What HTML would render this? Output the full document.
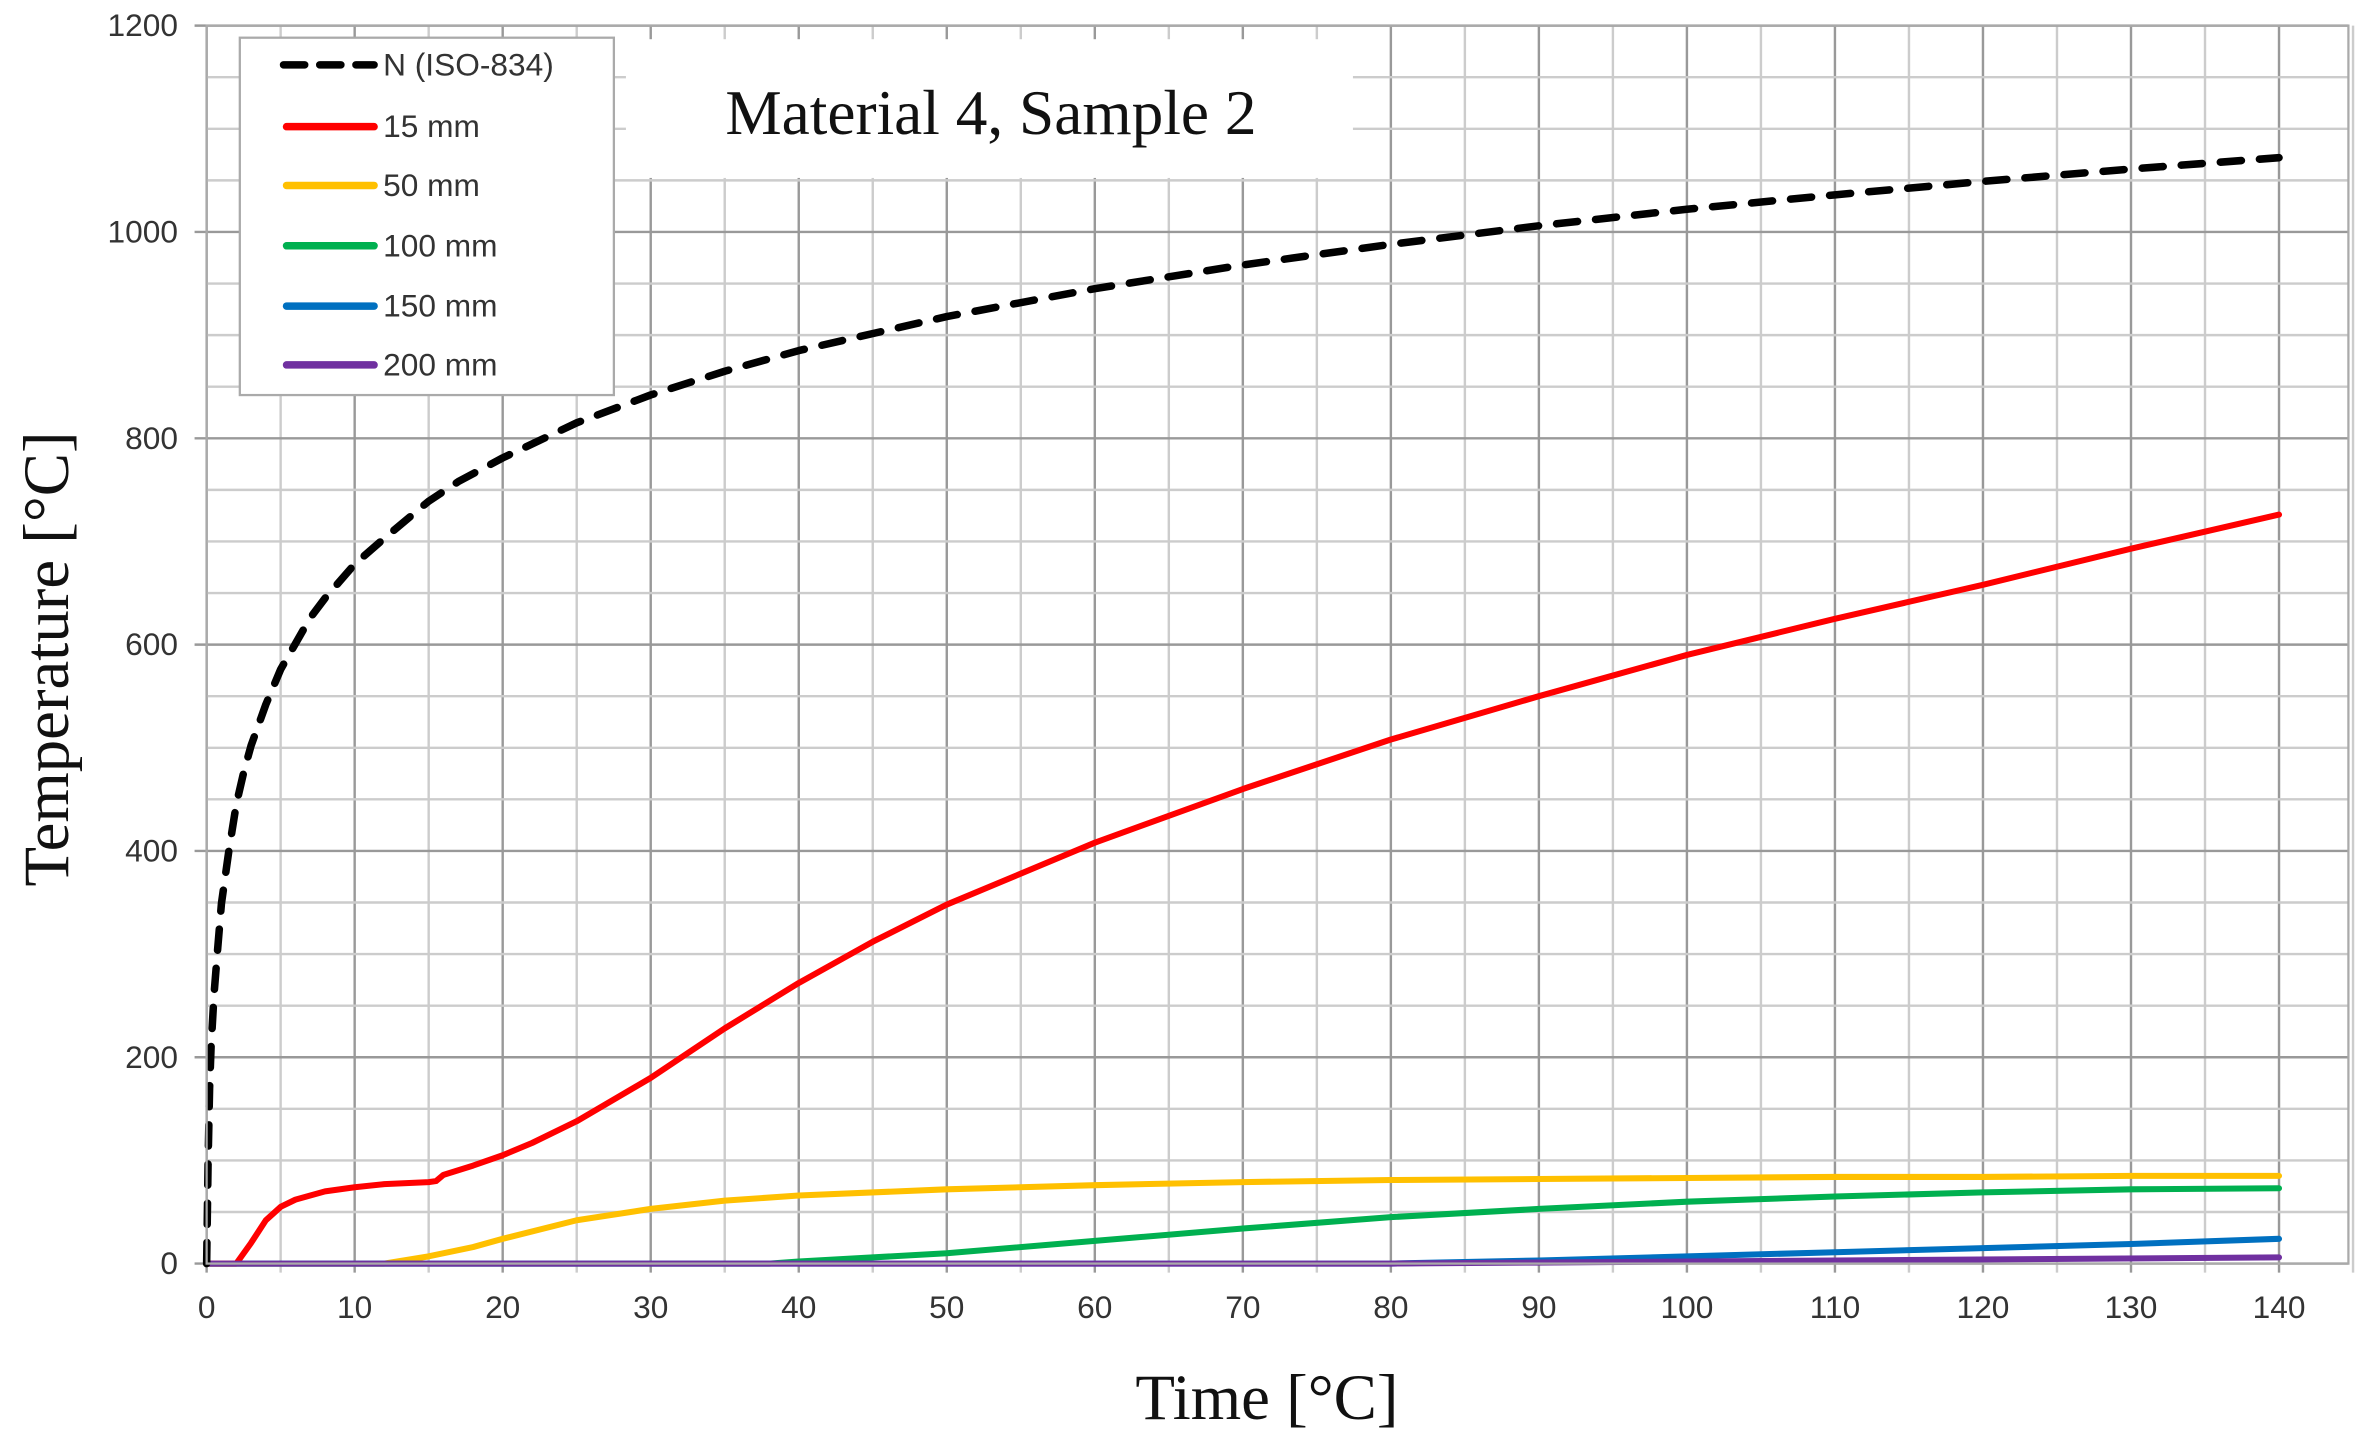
<!DOCTYPE html>
<html><head><meta charset="utf-8"><style>
html,body{margin:0;padding:0;background:#fff;}
svg{display:block;}
</style></head><body>
<svg id="chart" width="2365" height="1440" viewBox="0 0 1568 955" preserveAspectRatio="none" xmlns="http://www.w3.org/2000/svg">
<g id="grid"></g>
<g id="ticks"></g>
<g id="series"></g>
<rect x="137" y="17" width="1420" height="821" fill="none" stroke="#aaa" stroke-width="1.5"/>
<rect x="415" y="26" width="482" height="92" fill="#fff"/>
<text x="657" y="89" text-anchor="middle" font-family="Liberation Serif, serif" font-size="42" fill="#111">Material 4, Sample 2</text>
<g>
<rect x="159" y="25" width="248" height="237" fill="#fff" stroke="#aaa" stroke-width="1.5"/>
<g><line x1="188" y1="43" x2="248" y2="43" stroke="#000" stroke-width="5" stroke-dasharray="14,10" stroke-linecap="round"/><text x="254" y="50" font-family="Liberation Sans, sans-serif" font-size="21" fill="#333">N (ISO-834)</text></g>
<g><line x1="190" y1="84" x2="248" y2="84" stroke="#ff0000" stroke-width="5" stroke-linecap="round"/><text x="254" y="91" font-family="Liberation Sans, sans-serif" font-size="21" fill="#333">15 mm</text></g>
<g><line x1="190" y1="123" x2="248" y2="123" stroke="#ffc000" stroke-width="5" stroke-linecap="round"/><text x="254" y="130" font-family="Liberation Sans, sans-serif" font-size="21" fill="#333">50 mm</text></g>
<g><line x1="190" y1="163" x2="248" y2="163" stroke="#00b050" stroke-width="5" stroke-linecap="round"/><text x="254" y="170" font-family="Liberation Sans, sans-serif" font-size="21" fill="#333">100 mm</text></g>
<g><line x1="190" y1="203" x2="248" y2="203" stroke="#0070c0" stroke-width="5" stroke-linecap="round"/><text x="254" y="210" font-family="Liberation Sans, sans-serif" font-size="21" fill="#333">150 mm</text></g>
<g><line x1="190" y1="242" x2="248" y2="242" stroke="#7030a0" stroke-width="5" stroke-linecap="round"/><text x="254" y="249" font-family="Liberation Sans, sans-serif" font-size="21" fill="#333">200 mm</text></g>
</g>
<text transform="translate(45,437) rotate(-90)" text-anchor="middle" font-family="Liberation Serif, serif" font-size="43" fill="#111">Temperature [°C]</text>
<text x="840" y="941" text-anchor="middle" font-family="Liberation Serif, serif" font-size="43" fill="#111">Time [°C]</text>
</svg>
<script>
const xTicks=[0,10,20,30,40,50,60,70,80,90,100,110,120,130,140];
const yTicks=[0,200,400,600,800,1000,1200];
const isoT=[0,0.1,0.2,0.3,0.5,0.75,1,1.5,2,2.5,3,4,5,6,7,8,10,12,15,17,20,25,30,35,40,50,60,70,80,90,100,110,120,130,140];
const isoV=[0,100,170,210,261,306,349,400,445,476,502,542,576,601,626,645,678,703,739,758,781,815,842,865,885,918,945,968,988,1006,1022,1036,1049,1061,1072];
const redT=[0,2,3,4,5,6,7,8,10,12,15,15.5,16,18,20,22,25,30,35,40,45,50,60,70,80,90,100,110,120,130,140];
const redV=[0,0,20,42,55,62,66,70,74,77,79,80,86,95,105,117,138,180,228,272,312,348,408,460,508,550,590,625,658,693,726];
const yelT=[0,12,15,18,20,25,30,35,40,50,60,70,80,90,100,110,120,130,140];
const yelV=[0,0,7,16,24,42,53,61,66,72,76,79,81,82,83,84,84,85,85];
const grnT=[0,38,40,50,60,70,80,90,100,110,120,130,140];
const grnV=[0,0,2,10,22,34,45,53,60,65,69,72,73];
const bluT=[0,80,90,100,110,120,130,140];
const bluV=[0,0,3,7,11,15,19,24];
const purT=[0,80,90,110,140];
const purV=[0,0,1,3,6];
const NS='http://www.w3.org/2000/svg';
const X0=137,X1=1511,Y0=838,Y1=17;
function xs(t){return X0+(X1-X0)*t/140;}
function ys(v){return Y0-(Y0-Y1)*v/1200;}
const grid=document.getElementById('grid');
for(let t=0;t<=145;t+=5){const l=document.createElementNS(NS,'line');


l.setAttribute('x1',xs(t));l.setAttribute('x2',xs(t));l.setAttribute('y1',Y1);l.setAttribute('y2',Y0+6);
l.setAttribute('stroke',t%10===0?'#999':'#ccc');l.setAttribute('stroke-width',1.6);grid.appendChild(l);}
for(let v=0;v<=1200;v+=50){const l=document.createElementNS(NS,'line');


l.setAttribute('x1',v%200===0?X0-8:X0);l.setAttribute('x2',1557);l.setAttribute('y1',ys(v));l.setAttribute('y2',ys(v));
l.setAttribute('stroke',v%200===0?'#999':'#ccc');l.setAttribute('stroke-width',1.6);grid.appendChild(l);}
const tk=document.getElementById('ticks');
xTicks.forEach(t=>{const e=document.createElementNS(NS,'text');


e.setAttribute('x',xs(t));e.setAttribute('y',874);e.setAttribute('text-anchor','middle');
e.setAttribute('font-family','Liberation Sans, sans-serif');e.setAttribute('font-size','21');e.setAttribute('fill','#333');
e.textContent=t;tk.appendChild(e);});
yTicks.forEach(v=>{const e=document.createElementNS(NS,'text');


e.setAttribute('x',118);e.setAttribute('y',ys(v)+7);e.setAttribute('text-anchor','end');
e.setAttribute('font-family','Liberation Sans, sans-serif');e.setAttribute('font-size','21');e.setAttribute('fill','#333');
e.textContent=v;tk.appendChild(e);});
const sg=document.getElementById('series');
function draw(T,V,color,name,dash){const p=document.createElementNS(NS,'polyline');


p.setAttribute('points',T.map((t,i)=>xs(t)+','+ys(V[i])).join(' '));
p.setAttribute('fill','none');p.setAttribute('stroke',color);p.setAttribute('stroke-width',dash?5:4);
p.setAttribute('stroke-linejoin','round');p.setAttribute('stroke-linecap','round');
if(dash)p.setAttribute('stroke-dasharray','14,12');sg.appendChild(p);}
draw(yelT,yelV,'#ffc000','line-50mm');
draw(grnT,grnV,'#00b050','line-100mm');
draw(bluT,bluV,'#0070c0','line-150mm');
draw(redT,redV,'#ff0000','line-15mm');
draw(purT,purV,'#7030a0','line-200mm');
draw(isoT,isoV,'#000','line-iso834',true);
</script>
</body></html>
